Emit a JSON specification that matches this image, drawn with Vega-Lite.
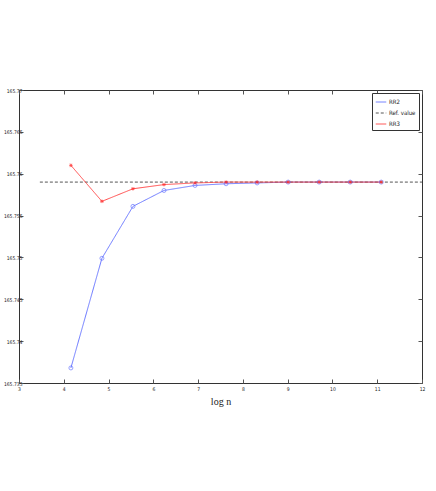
{
  "$schema": "https://vega.github.io/schema/vega-lite/v6.json",
  "width": 403,
  "height": 293,
  "autosize": {"type": "none"},
  "padding": {"left": 19, "top": 90, "right": 14, "bottom": 108},
  "background": "white",
  "config": {
    "view": {"stroke": "#333", "strokeWidth": 1},
    "font": "DejaVu Sans Condensed",
    "axis": {
      "grid": false,
      "domain": false,
      "tickColor": "#555",
      "tickSize": -4,
      "labelFontSize": 5,
      "labelColor": "#222",
      "labelFont": "DejaVu Sans Condensed"
    }
  },
  "datasets": {
    "pts": [
      {"series": "RR2", "logn": 4.159, "value": 165.7368},
      {"series": "RR2", "logn": 4.852, "value": 165.7499},
      {"series": "RR2", "logn": 5.545, "value": 165.7561},
      {"series": "RR2", "logn": 6.238, "value": 165.7580},
      {"series": "RR2", "logn": 6.931, "value": 165.7586},
      {"series": "RR2", "logn": 7.625, "value": 165.7588},
      {"series": "RR2", "logn": 8.318, "value": 165.7589},
      {"series": "RR2", "logn": 9.011, "value": 165.7590},
      {"series": "RR2", "logn": 9.704, "value": 165.7590},
      {"series": "RR2", "logn": 10.397, "value": 165.7590},
      {"series": "RR2", "logn": 11.090, "value": 165.7590},
      {"series": "Ref. value", "logn": 3.466, "value": 165.7590},
      {"series": "Ref. value", "logn": 12.0, "value": 165.7590},
      {"series": "RR3", "logn": 4.159, "value": 165.7610},
      {"series": "RR3", "logn": 4.852, "value": 165.7567},
      {"series": "RR3", "logn": 5.545, "value": 165.7582},
      {"series": "RR3", "logn": 6.238, "value": 165.7587},
      {"series": "RR3", "logn": 6.931, "value": 165.7589},
      {"series": "RR3", "logn": 7.625, "value": 165.7590},
      {"series": "RR3", "logn": 8.318, "value": 165.7590},
      {"series": "RR3", "logn": 9.011, "value": 165.7590},
      {"series": "RR3", "logn": 9.704, "value": 165.7590},
      {"series": "RR3", "logn": 10.397, "value": 165.7590},
      {"series": "RR3", "logn": 11.090, "value": 165.7590}
    ]
  },
  "data": {"name": "pts"},
  "resolve": {"axis": {"x": "independent", "y": "independent"}},
  "layer": [
    {
      "mark": {"type": "line", "strokeWidth": 1},
      "encoding": {
        "x": {
          "field": "logn", "type": "quantitative",
          "scale": {"domain": [3, 12], "nice": false, "zero": false},
          "axis": {"orient": "bottom", "values": [3,4,5,6,7,8,9,10,11,12], "title": "log n", "titleFont": "Liberation Serif", "titleFontSize": 10, "titleFontWeight": "normal", "titleColor": "#222", "titlePadding": 5, "labelPadding": 7, "labelFlush": false}
        },
        "y": {
          "field": "value", "type": "quantitative",
          "scale": {"domain": [165.735, 165.77], "nice": false, "zero": false},
          "axis": {"orient": "left", "values": [165.735,165.74,165.745,165.75,165.755,165.76,165.765,165.77], "format": ".3~f", "title": null, "labelPadding": 1, "labelFlush": false}
        },
        "detail": {"field": "series"},
        "color": {
          "field": "series", "type": "nominal",
          "scale": {"domain": ["RR2", "Ref. value", "RR3"], "range": ["#6a78ff", "#555555", "#ff4a4a"]},
          "legend": {
            "title": null, "orient": "none", "legendX": 353, "legendY": 3,
            "symbolType": "stroke", "symbolSize": 110, "symbolStrokeWidth": 1,
            "labelFontSize": 6, "labelFont": "DejaVu Sans Condensed", "labelColor": "#222",
            "rowPadding": 2, "padding": 3, "strokeColor": "#333", "fillColor": "white",
            "labelOffset": 2
          }
        },
        "strokeDash": {
          "field": "series", "type": "nominal",
          "scale": {"domain": ["RR2", "Ref. value", "RR3"], "range": [[1, 0], [3, 2], [1, 0]]},
          "legend": {
            "title": null, "orient": "none", "legendX": 353, "legendY": 3,
            "symbolType": "stroke", "symbolSize": 110, "symbolStrokeWidth": 1,
            "labelFontSize": 6, "labelFont": "DejaVu Sans Condensed", "labelColor": "#222",
            "rowPadding": 2, "padding": 3, "strokeColor": "#333", "fillColor": "white",
            "labelOffset": 2
          }
        }
      }
    },
    {
      "transform": [{"filter": "datum.series === 'RR2'"}],
      "mark": {"type": "point", "shape": "circle", "filled": false, "size": 16, "strokeWidth": 0.9, "color": "#5a6aff"},
      "encoding": {
        "x": {"field": "logn", "type": "quantitative", "axis": {"orient": "top", "values": [3,4,5,6,7,8,9,10,11,12], "labels": false, "title": null}},
        "y": {"field": "value", "type": "quantitative", "axis": {"orient": "right", "values": [165.735,165.74,165.745,165.75,165.755,165.76,165.765,165.77], "labels": false, "title": null}}
      }
    },
    {
      "transform": [{"filter": "datum.series === 'RR3'"}],
      "mark": {"type": "point", "shape": "M-1,0L1,0M0,-1L0,1M-0.7,-0.7L0.7,0.7M-0.7,0.7L0.7,-0.7", "filled": false, "size": 12, "strokeWidth": 1, "color": "#ff2020"},
      "encoding": {
        "x": {"field": "logn", "type": "quantitative", "axis": null},
        "y": {"field": "value", "type": "quantitative", "axis": null}
      }
    }
  ]
}
